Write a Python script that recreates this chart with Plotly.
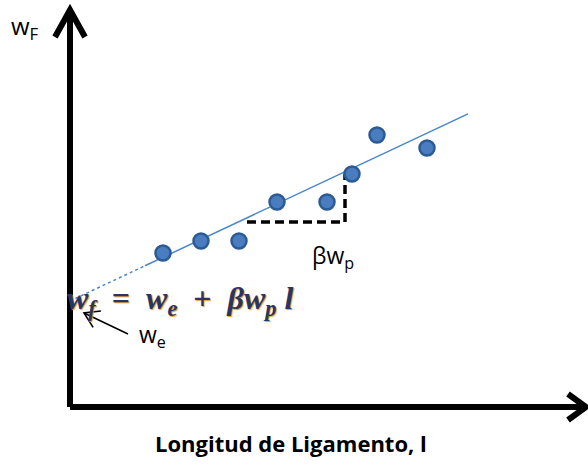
import math
import plotly.graph_objects as go

# ---- data (ligament length l, fracture work w_F) ----
l_points = [93, 131, 169, 207, 257, 282, 307, 357]
w_points = [154, 166, 166, 205, 205, 233, 272, 259]

w_e = 106          # intercept (essential work)
beta_wp = 0.47     # slope (beta * w_p)
l_dotted = [0, 75]
l_solid = [75, 398]

# slope triangle
tri_l = [177, 275, 275]
tri_w = [185, 185, 233]

# axis extents
x_max = 516
y_max = 397

# pointer to intercept (tail -> head)
ptr_tail = (58, 73)
ptr_head = (14, 94)

fig = go.Figure()

# fitted line (dotted extrapolation + solid)
fig.add_trace(go.Scatter(
    x=l_dotted, y=[w_e + beta_wp * v for v in l_dotted], mode="lines",
    line=dict(color="#4a86c8", width=1.5, dash="dot"), hoverinfo="skip"))
fig.add_trace(go.Scatter(
    x=l_solid, y=[w_e + beta_wp * v for v in l_solid], mode="lines",
    line=dict(color="#4a86c8", width=1.5), hoverinfo="skip"))

# slope triangle
fig.add_trace(go.Scatter(
    x=tri_l, y=tri_w, mode="lines",
    line=dict(color="black", width=3.5, dash="9px,5px"), hoverinfo="skip"))

# data points
fig.add_trace(go.Scatter(
    x=l_points, y=w_points, mode="markers",
    marker=dict(size=15, color="#4a7cc0", line=dict(color="#2c5a94", width=2.5)),
    hoverinfo="skip"))

# axes with chevron arrowheads
axis_style = dict(color="black", width=6)
fig.add_shape(type="line", x0=0, y0=0, x1=0, y1=y_max, line=axis_style)
fig.add_shape(type="line", x0=0, y0=0, x1=x_max, y1=0, line=axis_style)
fig.add_shape(type="path", path=f"M -15 {y_max-27} L 0 {y_max} L 15 {y_max-27}", line=axis_style)
fig.add_shape(type="path", path=f"M {x_max-18} 13 L {x_max} 0 L {x_max-18} -13", line=axis_style)

# pointer arrow (open chevron head)
dx, dy = ptr_tail[0] - ptr_head[0], ptr_tail[1] - ptr_head[1]
n = math.hypot(dx, dy)
ux, uy = dx / n, dy / n
arm = 17
pts = []
for ang in (math.radians(32), math.radians(-32)):
    rx = ux * math.cos(ang) - uy * math.sin(ang)
    ry = ux * math.sin(ang) + uy * math.cos(ang)
    pts.append((ptr_head[0] + arm * rx, ptr_head[1] + arm * ry))
ptr_style = dict(color="black", width=1.6)
fig.add_shape(type="line", x0=ptr_tail[0], y0=ptr_tail[1], x1=ptr_head[0], y1=ptr_head[1], line=ptr_style)
fig.add_shape(type="path",
              path=f"M {pts[0][0]:.2f} {pts[0][1]:.2f} L {ptr_head[0]} {ptr_head[1]} L {pts[1][0]:.2f} {pts[1][1]:.2f}",
              line=ptr_style)

# labels
fig.add_annotation(x=-45, y=380, text="w<sub>F</sub>", showarrow=False,
                   font=dict(family="Open Sans", size=24, color="black"))
fig.add_annotation(x=263, y=151, text="βw<sub>p</sub>", showarrow=False,
                   font=dict(family="Open Sans", size=23, color="black"))
fig.add_annotation(x=82, y=72, text="w<sub>e</sub>", showarrow=False,
                   font=dict(family="Open Sans", size=23, color="black"))

eq = ("<b><i>w<sub>f</sub></i>&nbsp; = &nbsp;<i>w<sub>e</sub></i>&nbsp; + &nbsp;"
      "<i>βw<sub>p</sub>&nbsp;l</i></b>")
fig.add_annotation(x=-5, y=107, text=eq, showarrow=False, xanchor="left",
                   font=dict(family="Liberation Serif", size=32, color="#2a3566",
                             shadow="1px 1px 1px #e39a3a"))

fig.add_annotation(x=221, y=-36, text="<b>Longitud de Ligamento, l</b>", showarrow=False,
                   font=dict(family="Open Sans", size=22, color="black"))

fig.update_layout(
    width=588, height=472, margin=dict(l=0, r=0, t=0, b=0),
    paper_bgcolor="white", plot_bgcolor="white", showlegend=False,
    xaxis=dict(range=[-70, 518], visible=False, fixedrange=True),
    yaxis=dict(range=[-65, 407], visible=False, fixedrange=True),
)

fig.write_html("out.html")
